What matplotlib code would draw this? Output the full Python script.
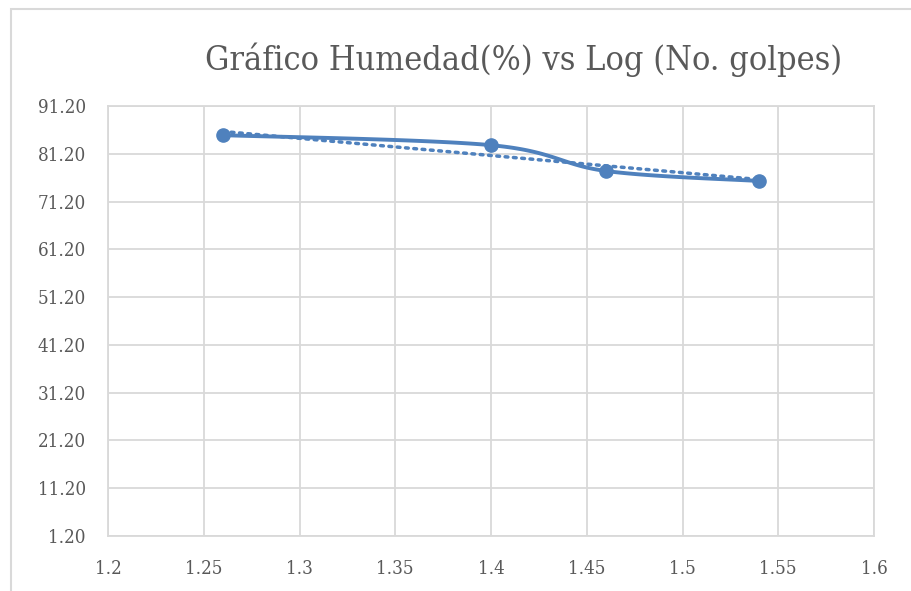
import numpy as np
import matplotlib.pyplot as plt
from matplotlib.patches import Rectangle

# datos
log_golpes = [1.26, 1.40, 1.46, 1.54]
humedad = [85.1, 83.0, 77.6, 75.5]

x_ticks = [1.2, 1.25, 1.3, 1.35, 1.4, 1.45, 1.5, 1.55, 1.6]
y_ticks = [1.20, 11.20, 21.20, 31.20, 41.20, 51.20, 61.20, 71.20, 81.20, 91.20]

azul = "#4F81BD"
gris_txt = "#595959"
gris_lin = "#D9D9D9"

plt.rcParams['font.family'] = ['DejaVu Serif']
plt.rcParams['font.stretch'] = 'condensed'


def curva_suave(xs, ys, n=40):
    # linea suavizada tipo Excel (Catmull-Rom con bezier)
    xs = np.asarray(xs, float)
    ys = np.asarray(ys, float)
    px = np.concatenate([[xs[0]], xs, [xs[-1]]])
    py = np.concatenate([[ys[0]], ys, [ys[-1]]])
    outx, outy = [], []
    t = np.linspace(0, 1, n)
    for i in range(1, len(px) - 2):
        p0 = np.array([px[i], py[i]])
        p3 = np.array([px[i + 1], py[i + 1]])
        c1 = p0 + (np.array([px[i + 1], py[i + 1]]) - np.array([px[i - 1], py[i - 1]])) / 6
        c2 = p3 - (np.array([px[i + 2], py[i + 2]]) - np.array([px[i], py[i]])) / 6
        b = ((1 - t) ** 3)[:, None] * p0 + (3 * (1 - t) ** 2 * t)[:, None] * c1 \
            + (3 * (1 - t) * t ** 2)[:, None] * c2 + (t ** 3)[:, None] * p3
        outx.extend(b[:, 0])
        outy.extend(b[:, 1])
    return outx, outy


fig = plt.figure(figsize=(9.11, 5.91), dpi=100)
fig.patches.append(Rectangle((11 / 911, -0.05), 1.2, 1.05 - 9 / 591, transform=fig.transFigure,
                             fill=False, edgecolor=gris_lin, linewidth=1.5))

ax = fig.add_axes([108 / 911, 1 - 536 / 591, (874 - 108) / 911, (536 - 106) / 591])
ax.set_xlim(1.2, 1.6)
ax.set_ylim(1.2, 91.2)
ax.set_xticks(x_ticks)
ax.set_xticklabels([f"{v:g}" for v in x_ticks])
ax.set_yticks(y_ticks)
ax.set_yticklabels([f"{v:.2f}" for v in y_ticks])
ax.grid(True, color=gris_lin, linewidth=1.3)
ax.set_axisbelow(True)
for s in ax.spines.values():
    s.set_color(gris_lin)
    s.set_linewidth(1.3)
ax.tick_params(length=0, labelsize=13.5, colors=gris_txt)
ax.tick_params(axis='y', pad=16)
ax.tick_params(axis='x', pad=17)

sx, sy = curva_suave(log_golpes, humedad)
ax.plot(sx, sy, color=azul, linewidth=2.8, solid_capstyle='round')
ax.plot(log_golpes, humedad, 'o', color=azul, markersize=9.5)

# linea de tendencia lineal
m, b = np.polyfit(log_golpes, humedad, 1)
xt = np.array([log_golpes[0], log_golpes[-1]])
ax.plot(xt, m * xt + b, linestyle=(0, (0.8, 1.6)), color=azul, linewidth=2.5,
        dash_capstyle='round')

fig.text(524 / 911, 1 - 60 / 591, "Gráfico Humedad(%) vs Log (No. golpes)", ha='center', va='center',
         fontsize=24.5, color=gris_txt)

fig.savefig("out.png", dpi=100)
